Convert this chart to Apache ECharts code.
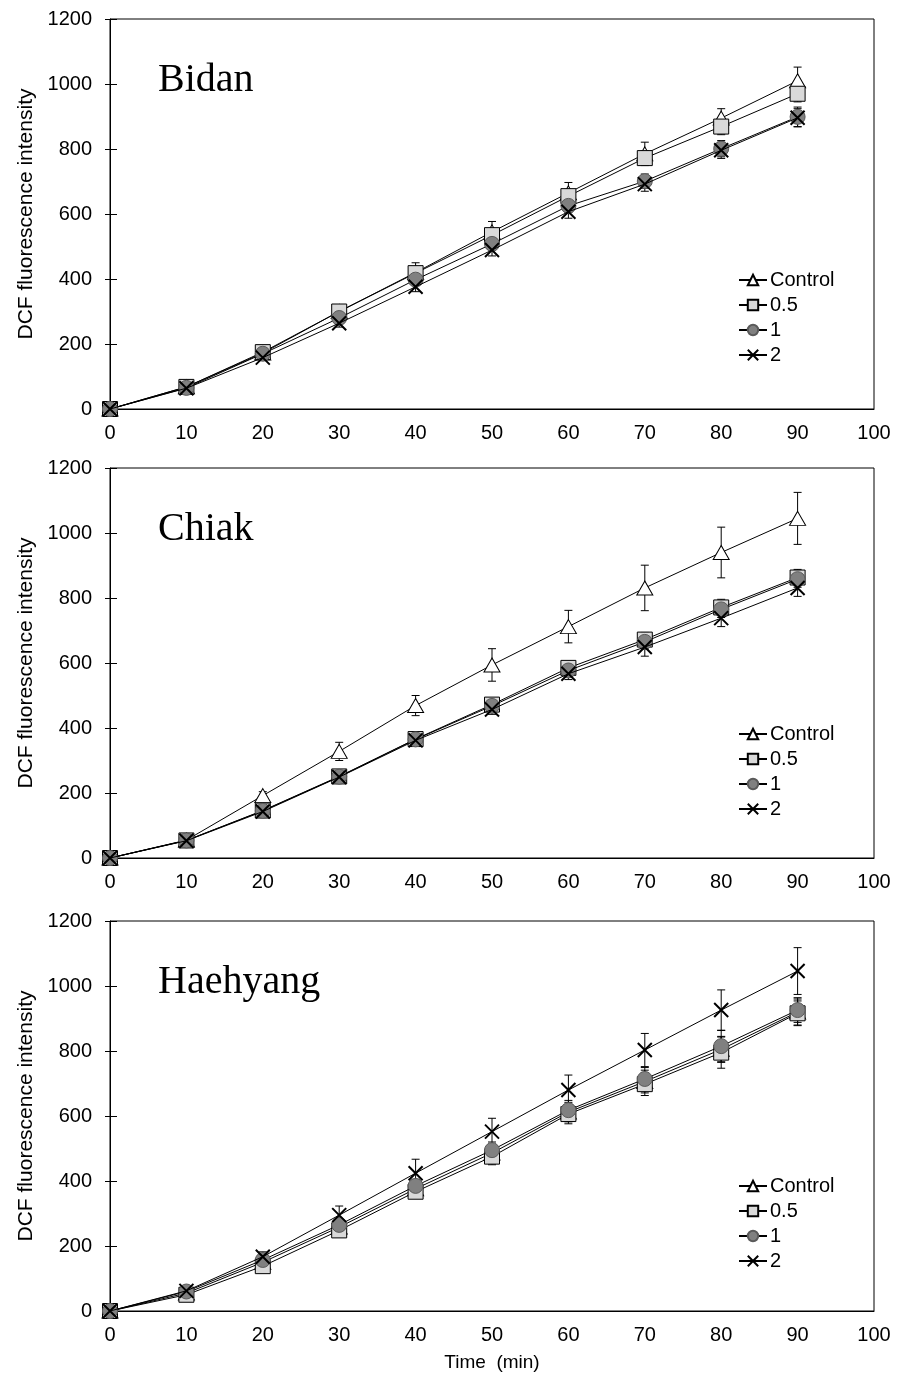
<!DOCTYPE html>
<html><head><meta charset="utf-8">
<script src="https://cdn.jsdelivr.net/npm/echarts@6/dist/echarts.min.js"></script>
<style>html,body{margin:0;padding:0;background:#fff}#c{width:907px;height:1394px}</style>
</head><body><div id="c"></div>
<script>
// ---- data ----
const times = [0, 10, 20, 30, 40, 50, 60, 70, 80, 90];
const seriesNames = ['Control', '0.5', '1', '2'];
const panelNames = ['Bidan', 'Chiak', 'Haehyang'];
const yTicks = [0, 200, 400, 600, 800, 1000, 1200];
const xTicks = [0, 10, 20, 30, 40, 50, 60, 70, 80, 90, 100];

// Bidan
const bidanControl = [0, 68, 172, 300, 420, 545, 665, 785, 895, 1010];
const bidan05      = [0, 68, 175, 300, 418, 535, 655, 772, 869, 970];
const bidan1       = [0, 65, 170, 280, 398, 508, 625, 701, 801, 899];
const bidan2       = [0, 64, 158, 264, 376, 489, 607, 692, 796, 896];
const bidanControlErr = [0, 5, 10, 15, 30, 32, 32, 36, 29, 42];
const bidan05Err      = [0, 4, 8, 12, 15, 18, 20, 22, 25, 25];
const bidan1Err       = [0, 4, 8, 12, 15, 18, 20, 22, 25, 30];
const bidan2Err       = [0, 4, 8, 12, 15, 18, 20, 22, 25, 28];

// Chiak
const chiakControl = [0, 55, 192, 328, 469, 594, 712, 831, 940, 1045];
const chiak05      = [0, 54, 146, 251, 366, 472, 585, 672, 771, 863];
const chiak1       = [0, 54, 145, 250, 365, 468, 577, 665, 765, 858];
const chiak2       = [0, 53, 143, 249, 362, 457, 567, 649, 738, 831];
const chiakControlErr = [0, 5, 12, 28, 31, 50, 50, 70, 78, 80];
const chiak05Err      = [0, 4, 8, 10, 12, 15, 18, 22, 25, 25];
const chiak1Err       = [0, 4, 8, 10, 12, 15, 18, 22, 25, 25];
const chiak2Err       = [0, 4, 8, 10, 12, 15, 18, 28, 26, 26];

// Haehyang
const haeControl = [0, 55, 150, 258, 376, 486, 612, 706, 805, 920];
const hae05      = [0, 50, 138, 248, 367, 475, 606, 698, 795, 916];
const hae1       = [0, 60, 157, 265, 385, 495, 618, 714, 815, 926];
const hae2       = [0, 62, 167, 295, 424, 552, 680, 803, 926, 1046];
const haeControlErr = [0, 5, 10, 15, 20, 25, 30, 35, 40, 40];
const hae05Err      = [0, 5, 10, 15, 20, 25, 30, 35, 48, 38];
const hae1Err       = [0, 5, 10, 15, 20, 25, 30, 35, 48, 38];
const hae2Err       = [0, 8, 15, 28, 43, 41, 46, 51, 62, 72];

const panels = [
  { values: [bidanControl, bidan05, bidan1, bidan2], errs: [bidanControlErr, bidan05Err, bidan1Err, bidan2Err] },
  { values: [chiakControl, chiak05, chiak1, chiak2], errs: [chiakControlErr, chiak05Err, chiak1Err, chiak2Err] },
  { values: [haeControl, hae05, hae1, hae2], errs: [haeControlErr, hae05Err, hae1Err, hae2Err] }
];

// ---- styles ----
const SANS = 'Liberation Sans';
const SERIF = 'Liberation Serif';
const gridTops = [19, 468, 921];
const gridH = 390;
const legendTops = [265, 719, 1171];
const markerStyles = [
  { symbol: 'triangle', symbolSize: [16, 14], itemStyle: { color: '#ffffff', borderColor: '#000', borderWidth: 1 } },
  { symbol: 'rect', symbolSize: 15, itemStyle: { color: '#d9d9d9', borderColor: '#000', borderWidth: 1 } },
  { symbol: 'circle', symbolSize: 15, itemStyle: { color: '#808080', borderColor: '#5a5a5a', borderWidth: 1 } },
  { symbol: 'path://M0,0L10,10M10,0L0,10', symbolSize: 14, itemStyle: { color: 'rgba(0,0,0,0)', borderColor: '#000', borderWidth: 2 } }
];

const grids = [], xAxes = [], yAxes = [], series = [], legends = [], titles = [];

panels.forEach((p, i) => {
  grids.push({ left: 110, top: gridTops[i], width: 764, height: gridH, show: true, borderColor: '#000', borderWidth: 1, backgroundColor: 'transparent' });
  xAxes.push({
    type: 'value', gridIndex: i, min: 0, max: 100, interval: 10,
    axisLine: { show: true, lineStyle: { color: '#000', width: 1 } },
    axisTick: { show: false }, splitLine: { show: false },
    axisLabel: { color: '#000', fontFamily: SANS, fontSize: 20, margin: 14, formatter: v => String(v) },
    name: i === 2 ? 'Time  (min)' : '', nameLocation: 'middle', nameGap: 42,
    nameTextStyle: { color: '#000', fontFamily: SANS, fontSize: 19 }
  });
  yAxes.push({
    type: 'value', gridIndex: i, min: 0, max: 1200, interval: 200,
    axisLine: { show: true, lineStyle: { color: '#000', width: 1 } },
    axisTick: { show: true, inside: false, length: 5, lineStyle: { color: '#000' } },
    splitLine: { show: false },
    axisLabel: { color: '#000', fontFamily: SANS, fontSize: 20, margin: 18, formatter: v => String(v) },
    name: 'DCF fluorescence intensity', nameLocation: 'middle', nameGap: 53, nameRotate: 90,
    nameTextStyle: { color: '#000', fontFamily: SANS, fontSize: 21 }
  });
  titles.push({ text: panelNames[i], left: 153, top: gridTops[i] + 36,
    textStyle: { fontFamily: SERIF, fontSize: 40, fontWeight: 'normal', color: '#000' } });
  legends.push({
    data: seriesNames, orient: 'vertical', left: 733, top: legendTops[i],
    itemWidth: 28, itemHeight: 13, itemGap: 5, selectedMode: false,
    textStyle: { color: '#000', fontFamily: SANS, fontSize: 20, padding: [0, 0, 0, -2] }
  });
});
// inside tick axes
panels.forEach((p, i) => {
  yAxes.push({
    type: 'value', gridIndex: i, min: 0, max: 1200, interval: 200, position: 'left',
    axisLine: { show: false }, axisLabel: { show: false }, splitLine: { show: false },
    axisTick: { show: true, inside: true, length: 7, lineStyle: { color: '#000' } }
  });
});

function errRender(params, api) {
  const x = api.value(0), y = api.value(1), e = api.value(2);
  if (!e) return null;
  const t = api.coord([x, y + e]), b = api.coord([x, y - e]);
  const hw = 4;
  const st = { stroke: '#000', lineWidth: 1 };
  return { type: 'group', children: [
    { type: 'line', shape: { x1: t[0], y1: t[1], x2: b[0], y2: b[1] }, style: st },
    { type: 'line', shape: { x1: t[0] - hw, y1: t[1], x2: t[0] + hw, y2: t[1] }, style: st },
    { type: 'line', shape: { x1: b[0] - hw, y1: b[1], x2: b[0] + hw, y2: b[1] }, style: st }
  ] };
}

panels.forEach((p, i) => {
  p.values.forEach((vals, s) => {
    series.push({
      type: 'custom', name: 'err' + i + '_' + s, xAxisIndex: i, yAxisIndex: i, silent: true, z: 1 + s,
      renderItem: errRender,
      data: times.map((t, k) => [t, vals[k], p.errs[s][k]])
    });
    series.push(Object.assign({
      type: 'line', name: seriesNames[s], xAxisIndex: i, yAxisIndex: i, z: 2 + s,
      showAllSymbol: true, silent: true,
      lineStyle: { color: '#000', width: 1 },
      emphasis: { disabled: true },
      data: times.map((t, k) => [t, vals[k]])
    }, markerStyles[s]));
  });
});

const chart = echarts.init(document.getElementById('c'), null, { renderer: 'canvas' });
chart.setOption({
  animation: false,
  backgroundColor: '#fff',
  title: titles,
  grid: grids, xAxis: xAxes, yAxis: yAxes,
  legend: legends,
  series: series
});
</script></body></html>
